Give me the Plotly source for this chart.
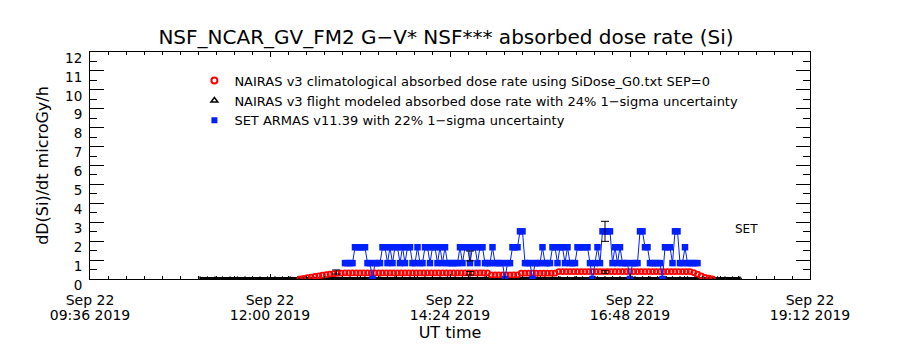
import plotly.graph_objects as go
import pandas as pd

DAY = "2019-09-22"

# ---- data ----
# NAIRAS v3 climatological absorbed dose rate (red), 3-minute samples from 12:24
red_start = "12:24"
red_step_min = 3
red_values = [
    0.0, 0.03, 0.07, 0.10, 0.14, 0.17, 0.20, 0.23, 0.26, 0.28, 0.30, 0.31,
    0.32, 0.32, 0.32, 0.32, 0.32, 0.32, 0.32, 0.32, 0.32, 0.32,
    0.32, 0.32, 0.32, 0.32, 0.32, 0.32, 0.32, 0.32, 0.32, 0.32,
    0.32, 0.32, 0.32, 0.32, 0.32, 0.32, 0.32, 0.32, 0.32, 0.32,
    0.32, 0.32, 0.32, 0.32, 0.32, 0.32, 0.32, 0.32, 0.32,
    0.22, 0.22, 0.22, 0.22, 0.22, 0.22, 0.22, 0.22,
    0.31, 0.31, 0.31, 0.31, 0.31, 0.31, 0.31, 0.31, 0.31, 0.31,
    0.39, 0.39, 0.39, 0.39, 0.39, 0.39, 0.39, 0.39, 0.39, 0.39,
    0.39, 0.39, 0.39, 0.39, 0.39, 0.39, 0.39, 0.39, 0.39, 0.39,
    0.39, 0.39, 0.39, 0.39, 0.39, 0.39, 0.39, 0.39, 0.39, 0.39,
    0.39, 0.39, 0.39, 0.39, 0.39, 0.39,
    0.34, 0.26, 0.17, 0.09, 0.04, 0.0,
]

# NAIRAS v3 flight modeled absorbed dose rate (black), 6-minute samples from 11:04
black_start = "11:04"
black_step_min = 6
black_values = [
    0.05, 0.05, 0.05, 0.05, 0.05, 0.05, 0.05, 0.05, 0.05, 0.05,
    0.05, 0.05, 0.05, 0.05, 0.06, 0.06, 0.06, 0.06, 0.06, 0.06,
    0.06, 0.06, 0.06, 0.06, 0.06, 0.06, 0.06, 0.06, 0.06, 0.06,
    0.06, 0.06, 0.06, 0.06, 0.06, 0.06, 0.06, 0.06, 0.06, 0.06,
    0.06, 0.06, 0.06, 0.06, 0.06, 0.06, 0.06, 0.06, 0.06, 0.06,
    0.06, 0.06, 0.06, 0.06, 0.06, 0.06, 0.06, 0.06, 0.06, 0.06,
    0.06, 0.06, 0.06, 0.06, 0.06, 0.06, 0.06, 0.06, 0.06, 0.05,
    0.05, 0.05, 0.05,
]

# SET ARMAS v11.39 (blue), 2-minute samples from 13:00
blue_start = "13:00"
blue_step_min = 2
blue_values = [
    0.84, 0.84, 0.84, 0.84,
    1.68, 1.68, 1.68, 1.68, 1.68,
    0.84, 0.84, 0.0, 0.84, 0.84, 0.84,
    1.68, 1.68, 0.84, 1.68, 0.84, 1.68, 1.68, 0.84, 1.68, 0.84, 1.68, 1.68,
    0.84, 0.84, 1.68, 0.84,
    0.84, 1.68, 1.68, 0.84, 1.68, 1.68, 0.84, 1.68, 0.84, 1.68,
    0.84, 0.84, 0.84, 0.84, 0.84,
    1.68, 0.84, 1.68, 1.68, 0.84, 1.68, 1.68,
    0.84, 1.68, 1.68, 0.84, 0.84, 0.84, 1.68, 0.84, 0.84, 0.84, 0.84,
    0.0, 0.84, 0.84, 1.68, 1.68, 1.68, 2.52, 2.52,
    0.84, 0.84, 0.84, 0.0, 0.84, 0.84, 0.84,
    1.68, 0.84, 0.84, 0.84, 1.68, 1.68, 0.84, 1.68, 1.68, 0.84, 1.68,
    0.84, 0.84, 0.84, 1.68, 1.68, 1.68, 1.68, 1.68,
    0.84, 0.0, 0.84, 1.68, 0.84, 2.52, 2.52, 2.52, 2.52,
    0.84, 1.68, 0.84, 1.68, 0.84, 0.84, 0.84, 0.0, 0.84, 0.84, 0.84,
    2.52, 2.52, 1.68, 1.68, 0.84, 0.84, 0.84, 0.84, 0.84, 0.0,
    1.68, 1.68, 1.68, 0.84, 2.52, 2.52, 0.84, 0.84, 1.68, 0.84, 0.84, 0.84, 0.84, 0.84,
]

# 1-sigma uncertainty bars
err_times = ["12:53", "14:40", "14:40", "16:28", "16:28"]
err_values = [0.37, 1.22, 0.30, 2.52, 0.37]
err_sigma = [0.11, 0.26, 0.09, 0.53, 0.07]

# axis ticks
tick_times = ["09:36", "12:00", "14:24", "16:48", "19:12"]
tick_dates = ["Sep 22", "Sep 22", "Sep 22", "Sep 22", "Sep 22"]
tick_hours = ["09:36 2019", "12:00 2019", "14:24 2019", "16:48 2019", "19:12 2019"]
x_start, x_end = "09:36", "19:12"

legend_labels = [
    "NAIRAS v3 climatological absorbed dose rate using SiDose_G0.txt SEP=0",
    "NAIRAS v3 flight modeled absorbed dose rate with 24% 1\u2212sigma uncertainty",
    "SET ARMAS v11.39 with 22% 1\u2212sigma uncertainty",
]

RED = "#ff0000"
BLUE = "#0020ff"
FONT = "DejaVu Sans"


def grid(start, step, n):
    return pd.date_range(f"{DAY} {start}", periods=n, freq=f"{step}min")


def ts(hm):
    return pd.Timestamp(f"{DAY} {hm}")


red_t = grid(red_start, red_step_min, len(red_values))
black_t = grid(black_start, black_step_min, len(black_values))
blue_t = grid(blue_start, blue_step_min, len(blue_values))

fig = go.Figure()

fig.add_trace(go.Scatter(
    x=black_t, y=black_values, mode="lines+markers", showlegend=False,
    line=dict(color="black", width=2),
    marker=dict(symbol="triangle-up-open", size=3, color="black"),
))
fig.add_trace(go.Scatter(
    x=red_t, y=red_values, mode="markers", showlegend=False,
    marker=dict(symbol="circle-open", size=5, color=RED, line=dict(width=1.8, color=RED)),
))
fig.add_trace(go.Scatter(
    x=blue_t, y=blue_values, mode="lines+markers", showlegend=False,
    line=dict(color=BLUE, width=1),
    marker=dict(symbol="square", size=6.5, color=BLUE),
))
fig.add_trace(go.Scatter(
    x=[ts(t) for t in err_times], y=err_values, mode="markers", showlegend=False,
    marker=dict(size=1, color="rgba(0,0,0,0)"),
    error_y=dict(type="data", array=err_sigma, visible=True, color="black",
                 thickness=1, width=4),
))

# legend proxies (no data)
fig.add_trace(go.Scatter(x=[None], y=[None], mode="markers", name=legend_labels[0],
                         marker=dict(symbol="circle-open", size=6, color=RED,
                                     line=dict(width=2, color=RED))))
fig.add_trace(go.Scatter(x=[None], y=[None], mode="markers", name=legend_labels[1],
                         marker=dict(symbol="triangle-up-open", size=6, color="black",
                                     line=dict(width=1.5, color="black"))))
fig.add_trace(go.Scatter(x=[None], y=[None], mode="markers", name=legend_labels[2],
                         marker=dict(symbol="square", size=6, color=BLUE)))

# second x axis only carrying the "Sep 22" label row
fig.add_trace(go.Scatter(x=[None], y=[None], xaxis="x2", showlegend=False,
                         hoverinfo="skip"))

xrange = [ts(x_start), ts(x_end)]
tvals = [ts(t) for t in tick_times]

fig.update_layout(
    width=900, height=350,
    margin=dict(l=90, r=90, t=52, b=71),
    paper_bgcolor="white", plot_bgcolor="white",
    font=dict(family=FONT, color="black"),
    showlegend=True,
    title=dict(text="NSF_NCAR_GV_FM2 G\u2212V* NSF*** absorbed dose rate (Si)",
               font=dict(size=20, family=FONT, color="black"),
               x=446 / 900, xanchor="center", xref="container",
               y=1 - 37 / 350, yanchor="middle", yref="container"),
    legend=dict(x=0.145, y=0.94, xanchor="left", yanchor="top",
                bgcolor="rgba(0,0,0,0)", font=dict(size=13, family=FONT),
                itemwidth=30, tracegroupgap=0),
    xaxis=dict(
        type="date", range=xrange, showgrid=False, zeroline=False,
        showline=True, linecolor="black", linewidth=1, mirror="ticks",
        tickmode="array", tickvals=tvals, ticktext=tick_hours,
        ticks="inside", ticklen=5, tickcolor="black", tickwidth=1,
        tickfont=dict(size=14, family=FONT), ticklabelstandoff=23,
        minor=dict(dtick=14.4 * 60 * 1000, tick0=ts(x_start), ticks="inside",
                   ticklen=3, tickcolor="black", showgrid=False),
        title=dict(text="UT time", font=dict(size=16, family=FONT), standoff=3),
    ),
    xaxis2=dict(
        type="date", range=xrange, overlaying="x", side="bottom",
        showgrid=False, zeroline=False, showline=False,
        tickmode="array", tickvals=tvals, ticktext=tick_dates, ticks="",
        tickfont=dict(size=14, family=FONT), ticklabelstandoff=11,
    ),
    yaxis=dict(
        range=[0, 12], showgrid=False, zeroline=False,
        showline=True, linecolor="black", linewidth=1, mirror="ticks",
        tickmode="linear", tick0=0, dtick=1,
        ticks="inside", ticklen=14, tickcolor="black",
        tickfont=dict(size=13.5, family=FONT), ticklabelstandoff=4, ticklabelshift=6,
        minor=dict(dtick=0.5, ticks="inside", ticklen=7, tickcolor="black", showgrid=False),
        title=dict(text="dD(Si)/dt microGy/h", font=dict(size=16, family=FONT), standoff=12),
    ),
    annotations=[dict(text="SET", xref="paper", yref="paper",
                      x=(760 - 90) / 720, y=(279 - 238) / 227,
                      showarrow=False, font=dict(size=12, family=FONT))],
)

fig.write_html("out.html")
